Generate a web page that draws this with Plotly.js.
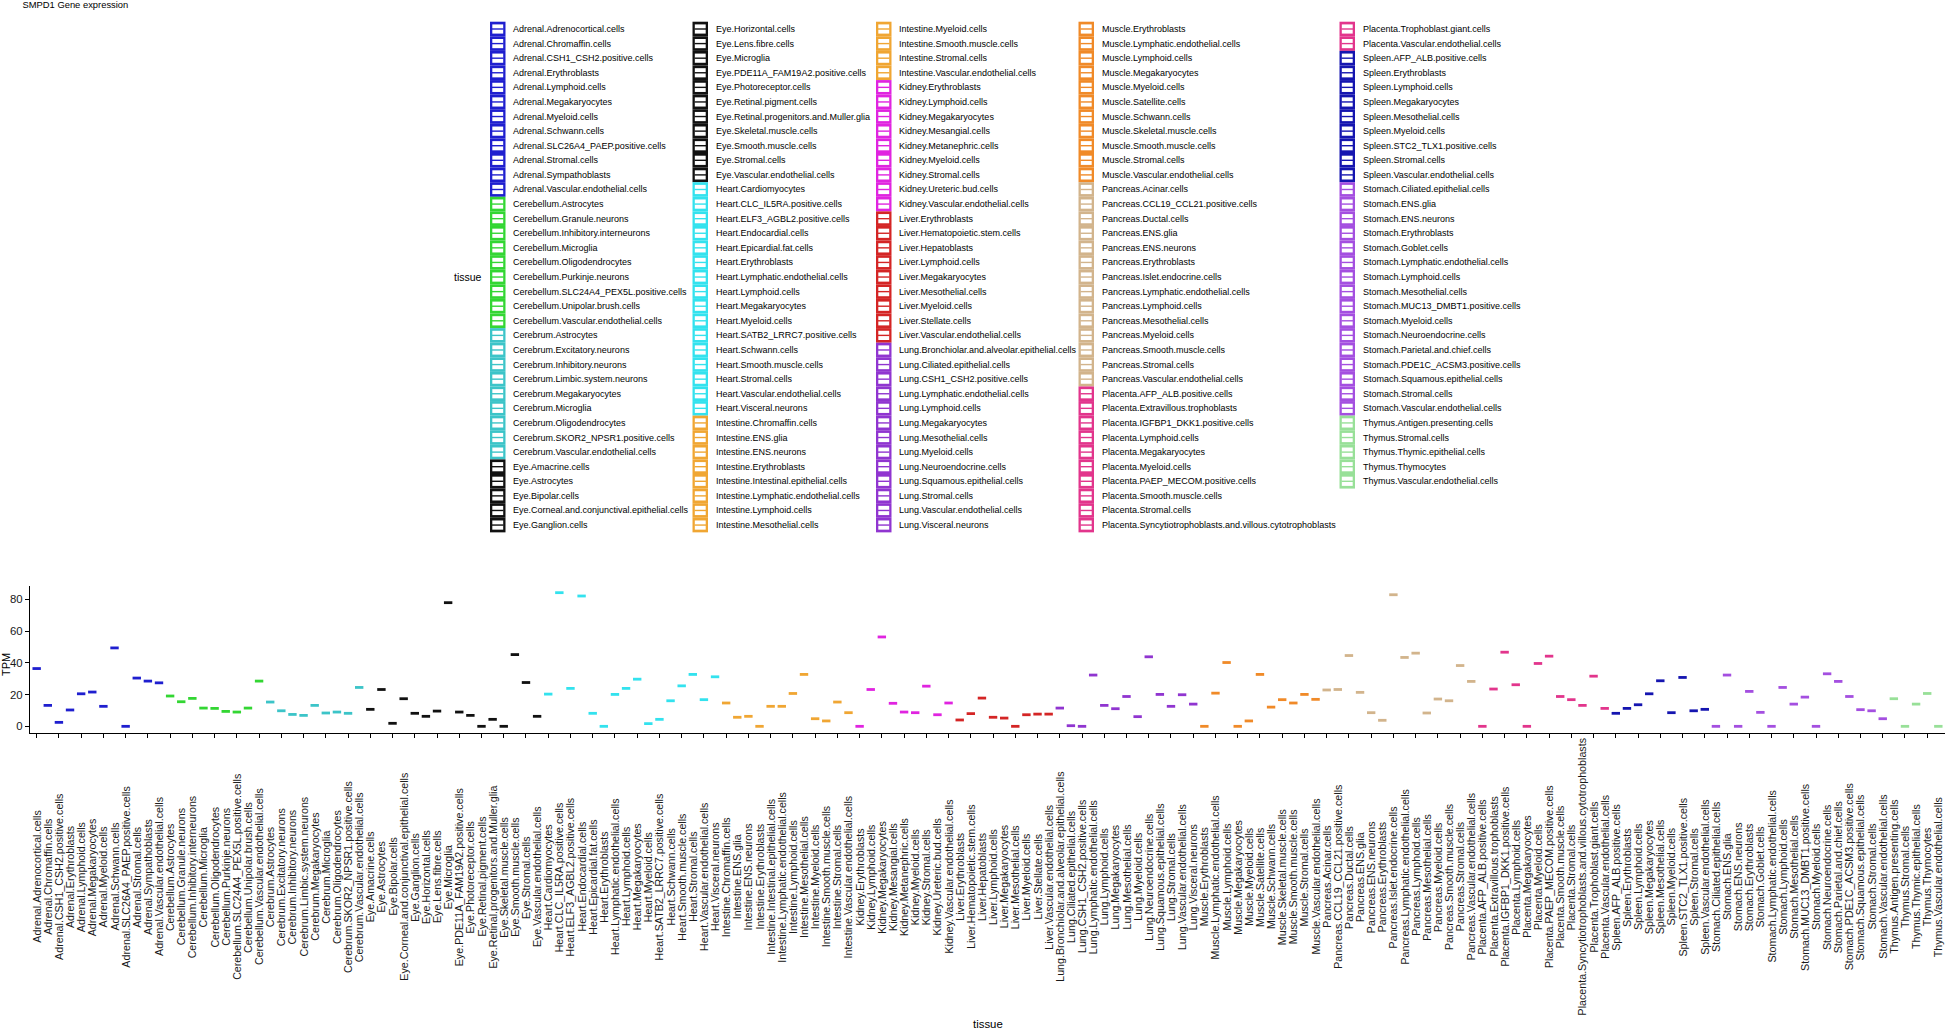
<!DOCTYPE html>
<html>
<head>
<meta charset="utf-8">
<script src="https://cdn.plot.ly/plotly-3.0.1.min.js"></script>
<style>html,body{margin:0;padding:0;background:#fff;}</style>
</head>
<body>
<div id="chart" style="width:1945px;height:1030px;"></div>
<script>
// cell types, in plot order
var cells = [
  'Adrenal.Adrenocortical.cells', 'Adrenal.Chromaffin.cells', 'Adrenal.CSH1_CSH2.positive.cells', 'Adrenal.Erythroblasts',
  'Adrenal.Lymphoid.cells', 'Adrenal.Megakaryocytes', 'Adrenal.Myeloid.cells', 'Adrenal.Schwann.cells',
  'Adrenal.SLC26A4_PAEP.positive.cells', 'Adrenal.Stromal.cells', 'Adrenal.Sympathoblasts', 'Adrenal.Vascular.endothelial.cells',
  'Cerebellum.Astrocytes', 'Cerebellum.Granule.neurons', 'Cerebellum.Inhibitory.interneurons', 'Cerebellum.Microglia',
  'Cerebellum.Oligodendrocytes', 'Cerebellum.Purkinje.neurons', 'Cerebellum.SLC24A4_PEX5L.positive.cells', 'Cerebellum.Unipolar.brush.cells',
  'Cerebellum.Vascular.endothelial.cells', 'Cerebrum.Astrocytes', 'Cerebrum.Excitatory.neurons', 'Cerebrum.Inhibitory.neurons',
  'Cerebrum.Limbic.system.neurons', 'Cerebrum.Megakaryocytes', 'Cerebrum.Microglia', 'Cerebrum.Oligodendrocytes',
  'Cerebrum.SKOR2_NPSR1.positive.cells', 'Cerebrum.Vascular.endothelial.cells', 'Eye.Amacrine.cells', 'Eye.Astrocytes',
  'Eye.Bipolar.cells', 'Eye.Corneal.and.conjunctival.epithelial.cells', 'Eye.Ganglion.cells', 'Eye.Horizontal.cells',
  'Eye.Lens.fibre.cells', 'Eye.Microglia', 'Eye.PDE11A_FAM19A2.positive.cells', 'Eye.Photoreceptor.cells',
  'Eye.Retinal.pigment.cells', 'Eye.Retinal.progenitors.and.Muller.glia', 'Eye.Skeletal.muscle.cells', 'Eye.Smooth.muscle.cells',
  'Eye.Stromal.cells', 'Eye.Vascular.endothelial.cells', 'Heart.Cardiomyocytes', 'Heart.CLC_IL5RA.positive.cells',
  'Heart.ELF3_AGBL2.positive.cells', 'Heart.Endocardial.cells', 'Heart.Epicardial.fat.cells', 'Heart.Erythroblasts',
  'Heart.Lymphatic.endothelial.cells', 'Heart.Lymphoid.cells', 'Heart.Megakaryocytes', 'Heart.Myeloid.cells',
  'Heart.SATB2_LRRC7.positive.cells', 'Heart.Schwann.cells', 'Heart.Smooth.muscle.cells', 'Heart.Stromal.cells',
  'Heart.Vascular.endothelial.cells', 'Heart.Visceral.neurons', 'Intestine.Chromaffin.cells', 'Intestine.ENS.glia',
  'Intestine.ENS.neurons', 'Intestine.Erythroblasts', 'Intestine.Intestinal.epithelial.cells', 'Intestine.Lymphatic.endothelial.cells',
  'Intestine.Lymphoid.cells', 'Intestine.Mesothelial.cells', 'Intestine.Myeloid.cells', 'Intestine.Smooth.muscle.cells',
  'Intestine.Stromal.cells', 'Intestine.Vascular.endothelial.cells', 'Kidney.Erythroblasts', 'Kidney.Lymphoid.cells',
  'Kidney.Megakaryocytes', 'Kidney.Mesangial.cells', 'Kidney.Metanephric.cells', 'Kidney.Myeloid.cells',
  'Kidney.Stromal.cells', 'Kidney.Ureteric.bud.cells', 'Kidney.Vascular.endothelial.cells', 'Liver.Erythroblasts',
  'Liver.Hematopoietic.stem.cells', 'Liver.Hepatoblasts', 'Liver.Lymphoid.cells', 'Liver.Megakaryocytes',
  'Liver.Mesothelial.cells', 'Liver.Myeloid.cells', 'Liver.Stellate.cells', 'Liver.Vascular.endothelial.cells',
  'Lung.Bronchiolar.and.alveolar.epithelial.cells', 'Lung.Ciliated.epithelial.cells', 'Lung.CSH1_CSH2.positive.cells', 'Lung.Lymphatic.endothelial.cells',
  'Lung.Lymphoid.cells', 'Lung.Megakaryocytes', 'Lung.Mesothelial.cells', 'Lung.Myeloid.cells',
  'Lung.Neuroendocrine.cells', 'Lung.Squamous.epithelial.cells', 'Lung.Stromal.cells', 'Lung.Vascular.endothelial.cells',
  'Lung.Visceral.neurons', 'Muscle.Erythroblasts', 'Muscle.Lymphatic.endothelial.cells', 'Muscle.Lymphoid.cells',
  'Muscle.Megakaryocytes', 'Muscle.Myeloid.cells', 'Muscle.Satellite.cells', 'Muscle.Schwann.cells',
  'Muscle.Skeletal.muscle.cells', 'Muscle.Smooth.muscle.cells', 'Muscle.Stromal.cells', 'Muscle.Vascular.endothelial.cells',
  'Pancreas.Acinar.cells', 'Pancreas.CCL19_CCL21.positive.cells', 'Pancreas.Ductal.cells', 'Pancreas.ENS.glia',
  'Pancreas.ENS.neurons', 'Pancreas.Erythroblasts', 'Pancreas.Islet.endocrine.cells', 'Pancreas.Lymphatic.endothelial.cells',
  'Pancreas.Lymphoid.cells', 'Pancreas.Mesothelial.cells', 'Pancreas.Myeloid.cells', 'Pancreas.Smooth.muscle.cells',
  'Pancreas.Stromal.cells', 'Pancreas.Vascular.endothelial.cells', 'Placenta.AFP_ALB.positive.cells', 'Placenta.Extravillous.trophoblasts',
  'Placenta.IGFBP1_DKK1.positive.cells', 'Placenta.Lymphoid.cells', 'Placenta.Megakaryocytes', 'Placenta.Myeloid.cells',
  'Placenta.PAEP_MECOM.positive.cells', 'Placenta.Smooth.muscle.cells', 'Placenta.Stromal.cells', 'Placenta.Syncytiotrophoblasts.and.villous.cytotrophoblasts',
  'Placenta.Trophoblast.giant.cells', 'Placenta.Vascular.endothelial.cells', 'Spleen.AFP_ALB.positive.cells', 'Spleen.Erythroblasts',
  'Spleen.Lymphoid.cells', 'Spleen.Megakaryocytes', 'Spleen.Mesothelial.cells', 'Spleen.Myeloid.cells',
  'Spleen.STC2_TLX1.positive.cells', 'Spleen.Stromal.cells', 'Spleen.Vascular.endothelial.cells', 'Stomach.Ciliated.epithelial.cells',
  'Stomach.ENS.glia', 'Stomach.ENS.neurons', 'Stomach.Erythroblasts', 'Stomach.Goblet.cells',
  'Stomach.Lymphatic.endothelial.cells', 'Stomach.Lymphoid.cells', 'Stomach.Mesothelial.cells', 'Stomach.MUC13_DMBT1.positive.cells',
  'Stomach.Myeloid.cells', 'Stomach.Neuroendocrine.cells', 'Stomach.Parietal.and.chief.cells', 'Stomach.PDE1C_ACSM3.positive.cells',
  'Stomach.Squamous.epithelial.cells', 'Stomach.Stromal.cells', 'Stomach.Vascular.endothelial.cells', 'Thymus.Antigen.presenting.cells',
  'Thymus.Stromal.cells', 'Thymus.Thymic.epithelial.cells', 'Thymus.Thymocytes', 'Thymus.Vascular.endothelial.cells'
];

// TPM, same order as cells
var tpm = [
  36.4, 13.2, 2.5, 10.3, 20.5, 21.6, 12.6, 49.4, 0, 30.4, 28.5, 27.4,
  19.1, 15.5, 17.6, 11.5, 11.3, 9.4, 9.0, 11.5, 28.5,
  15.3, 9.8, 7.5, 6.9, 13.2, 8.4, 9.0, 8.2, 24.5,
  10.7, 23.2, 1.9, 17.4, 8.2, 6.3, 9.6, 77.9, 9.0, 6.9, 0, 4.4, 0, 45.2, 27.6, 6.3,
  20.3, 84.2, 23.9, 82.1, 8.2, 0, 20.1, 23.9, 29.7, 1.7, 4.4, 16.1, 25.5, 32.7, 16.8, 31.2,
  14.7, 5.7, 6.3, 0, 12.6, 12.6, 20.7, 32.7, 4.8, 3.4, 15.3, 8.6,
  0, 23.2, 56.3, 14.5, 9.0, 8.6, 25.3, 7.3, 14.7,
  4.0, 8.0, 17.8, 5.7, 5.2, 0, 7.3, 7.7, 7.7,
  11.5, 0.4, 0, 32.3, 13.2, 11.1, 18.8, 6.1, 43.8, 20.1, 12.6, 19.9, 14.0,
  0, 20.9, 40.2, 0, 3.4, 32.7, 12.1, 16.8, 14.7, 20.1, 17.0,
  22.9, 23.2, 44.6, 21.4, 8.6, 3.8, 82.9, 43.4, 46.1, 8.4, 17.2, 16.1, 38.3, 28.3,
  0, 23.5, 46.7, 26.2, 0, 39.6, 44.2, 18.8, 16.8, 13.2, 31.6, 11.3,
  8.2, 11.3, 13.6, 20.5, 28.7, 8.6, 30.8, 9.8, 10.7,
  0, 32.3, 0, 22.0, 8.8, 0, 24.5, 14.0, 18.4, 0, 33.1, 28.3, 18.8, 10.5, 9.8, 4.8,
  17.4, 0, 14.0, 20.7, 0
];

var organs = ['Adrenal', 'Cerebellum', 'Cerebrum', 'Eye', 'Heart', 'Intestine', 'Kidney', 'Liver',
              'Lung', 'Muscle', 'Pancreas', 'Placenta', 'Spleen', 'Stomach', 'Thymus'];
var organColors = ['#1f1fcf', '#33d633', '#3cc4c8', '#111111', '#33e2ee', '#f0a633', '#e024e0', '#d42525',
                   '#9035d0', '#f08a28', '#d2b48c', '#e2358c', '#1515b0', '#a44fe0', '#98e098'];

var W = 1945, H = 1030;
var M = {l: 30, r: 0, t: 586, b: 297};
var PW = W - M.l - M.r, PH = H - M.t - M.b;
function px(x) { return (x - M.l) / PW; }
function py(y) { return (H - M.b - y) / PH; }

var FONT = 'Liberation Sans, Arial, sans-serif';

function organOf(c) { return c.split('.')[0]; }
function colorOf(c) { return organColors[organs.indexOf(organOf(c))]; }

// one trace per organ
var data = organs.map(function (org, k) {
  var xs = [], ys = [];
  cells.forEach(function (c, i) {
    if (organOf(c) === org) { xs.push(c); ys.push(tpm[i]); }
  });
  return {
    type: 'scatter', mode: 'markers', name: org, x: xs, y: ys,
    marker: {symbol: 'line-ew', size: 6, color: organColors[k],
             line: {color: organColors[k], width: 2.8}},
    hoverinfo: 'x+y', showlegend: false
  };
});

var shapes = [], annotations = [];

// ggplot-like legend, 5 columns of 35 rows
var colLeft = [490, 692.5, 876, 1078.5, 1339.5];
var rowH = 14.59, rowTop = 29;
cells.forEach(function (c, i) {
  var col = Math.floor(i / 35), row = i % 35;
  var cy = rowTop + row * rowH, x0 = colLeft[col], x1 = x0 + 15.5;
  var clr = colorOf(c);
  shapes.push({type: 'rect', xref: 'paper', yref: 'paper', x0: px(x0), x1: px(x1),
               y0: py(cy + rowH / 2), y1: py(cy - rowH / 2), fillcolor: clr, line: {width: 0}});
  shapes.push({type: 'rect', xref: 'paper', yref: 'paper', x0: px(x0 + 2.3), x1: px(x1 - 2.3),
               y0: py(cy + 4.6), y1: py(cy - 4.6), fillcolor: '#ffffff', line: {width: 0}});
  shapes.push({type: 'line', xref: 'paper', yref: 'paper', x0: px(x0 + 2), x1: px(x1 - 2),
               y0: py(cy), y1: py(cy), line: {color: clr, width: 1.4}});
  annotations.push({xref: 'paper', yref: 'paper', x: px(x0 + 21), y: py(cy), xanchor: 'left', yanchor: 'middle',
                    text: c, showarrow: false, font: {family: FONT, size: 9, color: '#000'}});
  // rotated tick label, centred like ggplot's angle = 90
  annotations.push({xref: 'x', yref: 'paper', x: c, y: py(877), xanchor: 'center', yanchor: 'middle',
                    textangle: -90, text: c, showarrow: false, font: {family: FONT, size: 10.7, color: '#1a1a1a'}});
});

annotations.push({xref: 'paper', yref: 'paper', x: px(484), y: py(277), xanchor: 'right', yanchor: 'middle',
                  text: 'tissue', showarrow: false, font: {family: FONT, size: 10.5, color: '#000'}});
annotations.push({xref: 'paper', yref: 'paper', x: 0.5, y: py(1024), xanchor: 'center', yanchor: 'middle',
                  text: 'tissue', showarrow: false, font: {family: FONT, size: 11.4, color: '#000'}});
annotations.push({xref: 'paper', yref: 'paper', x: px(6), y: py(665), xanchor: 'center', yanchor: 'middle',
                  textangle: -90, text: 'TPM', showarrow: false, font: {family: FONT, size: 11, color: '#000'}});

var layout = {
  width: W, height: H,
  margin: M,
  paper_bgcolor: '#fff', plot_bgcolor: '#fff',
  font: {family: FONT, color: '#000'},
  showlegend: false,
  title: {text: 'SMPD1 Gene expression', xref: 'container', yref: 'container',
          x: 22.5 / W, xanchor: 'left', y: 1 - 5 / H, yanchor: 'middle',
          font: {family: FONT, size: 9.4, color: '#000'}},
  xaxis: {type: 'category', categoryorder: 'array', categoryarray: cells,
          range: [-0.6, cells.length - 0.4], showticklabels: false,
          ticks: 'outside', ticklen: 4, tickwidth: 1, tickcolor: '#000',
          showline: true, linecolor: '#000', linewidth: 1.1, showgrid: false, zeroline: false},
  yaxis: {range: [-4.2, 88.4], tickvals: [0, 20, 40, 60, 80],
          ticks: 'outside', ticklen: 4, tickwidth: 1, tickcolor: '#000',
          tickfont: {family: FONT, size: 11.4, color: '#1a1a1a'},
          showline: true, linecolor: '#000', linewidth: 1.1, showgrid: false, zeroline: false},
  shapes: shapes,
  annotations: annotations
};

Plotly.newPlot('chart', data, layout, {displayModeBar: false, staticPlot: true});
</script>
</body>
</html>
